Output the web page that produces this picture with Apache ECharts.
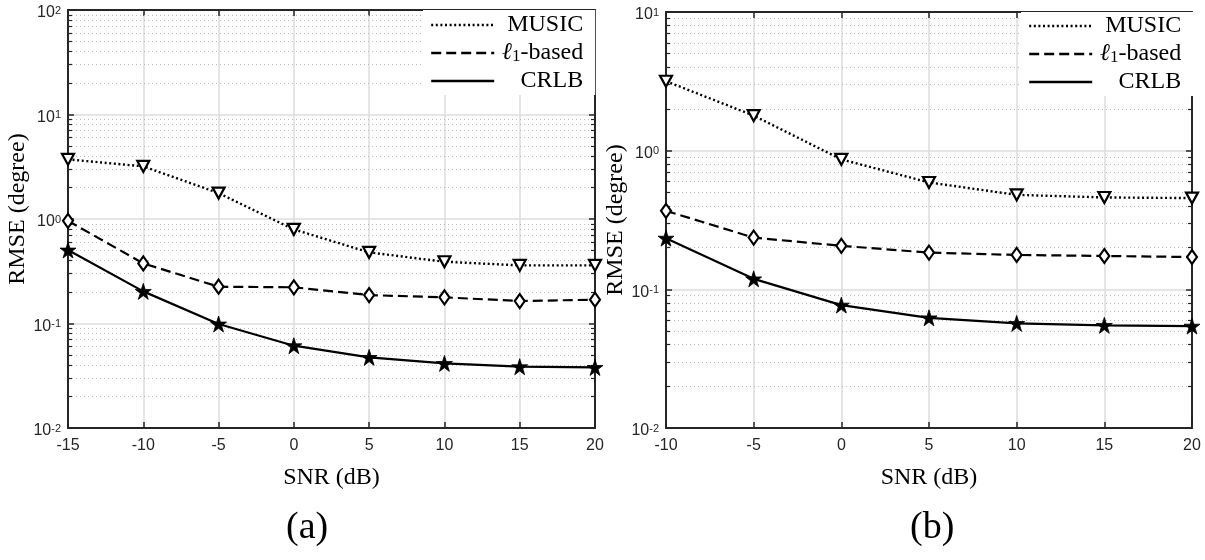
<!DOCTYPE html>
<html><head><meta charset="utf-8">
<script src="https://cdn.jsdelivr.net/npm/echarts@6/dist/echarts.min.js"></script>
<style>html,body{margin:0;padding:0;background:#fff}#c{width:1205px;height:560px}</style>
</head><body><div id="c"></div><script>
// ---- data ----
const seriesNames = ['MUSIC', 'ℓ1-based', 'CRLB'];
const snrA = [-15, -10, -5, 0, 5, 10, 15, 20];
const musicA = [3.72, 3.19, 1.77, 0.795, 0.479, 0.39, 0.36, 0.36];
const l1A = [0.96, 0.376, 0.225, 0.222, 0.187, 0.178, 0.164, 0.169];
const crlbA = [0.505, 0.203, 0.0989, 0.0613, 0.0474, 0.0415, 0.0386, 0.038];
const snrB = [-10, -5, 0, 5, 10, 15, 20];
const musicB = [3.17, 1.79, 0.865, 0.59, 0.48, 0.46, 0.455];
const l1B = [0.368, 0.236, 0.206, 0.184, 0.177, 0.174, 0.171];
const crlbB = [0.234, 0.119, 0.077, 0.0623, 0.0568, 0.055, 0.0543];
const panelLabels = ['(a)', '(b)'];
const xName = 'SNR (dB)';
const yName = 'RMSE (degree)';

// ---- styling ----
const AX = '#262626';
const SERIF = '"Liberation Serif", "Times New Roman", serif';
const SANS = '"Liberation Sans", Arial, sans-serif';
const GRIDC = '#dcdcdc';
const STAR = 'path://M50,0 L61.2,34.5 L97.6,34.5 L68.2,55.9 L79.4,90.5 L50,69.1 L20.6,90.5 L31.8,55.9 L2.4,34.5 L38.8,34.5 Z';

const panels = [
  { grid: {left: 68, top: 10, width: 527, height: 418}, xMin: -15, xMax: 20, yMin: 0.01, yMax: 100,
    x: snrA, ys: [musicA, l1A, crlbA], legend: {left: 423, top: 10, padTop: 3}, labelX: 306, yGap: 35, yPad: [0,0,0,20] },
  { grid: {left: 666, top: 12, width: 526, height: 416}, xMin: -10, xMax: 20, yMin: 0.01, yMax: 10,
    x: snrB, ys: [musicB, l1B, crlbB], legend: {left: 1021, top: 12, padTop: 2}, labelX: 930, yGap: 37, yPad: [0,0,0,0] }
];

function minorVals(lo, hi) {
  const out = [];
  const e0 = Math.round(Math.log10(lo)), e1 = Math.round(Math.log10(hi));
  for (let e = e0; e < e1; e++) for (let m = 2; m <= 9; m++) out.push(+(m * Math.pow(10, e)).toPrecision(6));
  return out;
}

const grids = [], xAxes = [], yAxes = [], series = [], legends = [], graphics = [];

const tickLabelRich = {
  b: {fontSize: 16, fontFamily: SANS, color: AX, lineHeight: 16, verticalAlign: 'bottom'},
  e: {fontSize: 11, fontFamily: SANS, color: AX, lineHeight: 11, verticalAlign: 'top'}
};

panels.forEach((p, k) => {
  grids.push(Object.assign({show: false}, p.grid));
  const xi = xAxes.length, yi = yAxes.length;
  xAxes.push({
    type: 'value', gridIndex: k, min: p.xMin, max: p.xMax, interval: 5, position: 'bottom',
    name: xName, nameLocation: 'middle', nameGap: 38,
    nameTextStyle: {fontFamily: SERIF, fontSize: 24, color: '#000'},
    axisLine: {show: true, onZero: false, lineStyle: {color: AX, width: 2}},
    axisTick: {show: true, inside: true, length: 6, lineStyle: {color: AX, width: 1.5}},
    axisLabel: {show: true, margin: 10, fontFamily: SANS, fontSize: 16, color: AX},
    splitLine: {show: true, lineStyle: {color: GRIDC, width: 1.5}}
  });
  xAxes.push({
    type: 'value', gridIndex: k, min: p.xMin, max: p.xMax, interval: 5, position: 'top',
    axisLine: {show: true, onZero: false, lineStyle: {color: AX, width: 2}},
    axisTick: {show: true, inside: true, length: 6, lineStyle: {color: AX, width: 1.5}},
    axisLabel: {show: false}, splitLine: {show: false}
  });
  yAxes.push({
    type: 'log', logBase: 10, gridIndex: k, min: p.yMin, max: p.yMax, position: 'left',
    name: yName, nameLocation: 'middle', nameGap: p.yGap, nameRotate: 90,
    nameTextStyle: {fontFamily: SERIF, fontSize: 24, color: '#000', padding: p.yPad},
    axisLine: {show: true, onZero: false, lineStyle: {color: AX, width: 2}},
    axisTick: {show: true, inside: true, length: 6, lineStyle: {color: AX, width: 1.5}},
    axisLabel: {show: true, margin: 7, padding: [6, 0, 0, 0], rich: tickLabelRich,
      formatter: v => '{b|10}{e|' + Math.round(Math.log10(v)) + '}'},
    splitLine: {show: true, lineStyle: {color: GRIDC, width: 1.5}}
  });
  yAxes.push({
    type: 'log', logBase: 10, gridIndex: k, min: p.yMin, max: p.yMax, position: 'right',
    axisLine: {show: true, onZero: false, lineStyle: {color: AX, width: 2}},
    axisTick: {show: true, inside: true, length: 6, lineStyle: {color: AX, width: 1.5}},
    axisLabel: {show: false}, splitLine: {show: false}
  });

  // minor grid lines and minor ticks (log positions 2..9 per decade)
  const mv = minorVals(p.yMin, p.yMax);
  const d = (p.xMax - p.xMin) * 4 / p.grid.width;
  const mlData = [];
  mv.forEach(v => {
    mlData.push({yAxis: v, lineStyle: {color: '#bdbdbd', width: 1, type: [1, 3]}});
    mlData.push([{coord: [p.xMin, v], lineStyle: {color: AX, width: 1.2, type: 'solid'}}, {coord: [p.xMin + d, v]}]);
    mlData.push([{coord: [p.xMax - d, v], lineStyle: {color: AX, width: 1.2, type: 'solid'}}, {coord: [p.xMax, v]}]);
  });

  const common = {type: 'line', xAxisIndex: xi, yAxisIndex: yi, showAllSymbol: true, clip: false,
    emphasis: {disabled: true}, silent: true};
  series.push(Object.assign({}, common, {
    name: seriesNames[0], data: p.x.map((s, i) => [s, p.ys[0][i]]), z: 3,
    symbol: 'triangle', symbolRotate: 180, symbolSize: [12, 11],
    itemStyle: {color: '#fff', borderColor: '#000', borderWidth: 2.2},
    lineStyle: {color: '#000', width: 2.4, type: [2, 2.6]}
  }));
  series.push(Object.assign({}, common, {
    name: seriesNames[1], data: p.x.map((s, i) => [s, p.ys[1][i]]), z: 3,
    symbol: 'diamond', symbolSize: [10, 14],
    itemStyle: {color: '#fff', borderColor: '#000', borderWidth: 2.2},
    lineStyle: {color: '#000', width: 2.2, type: [10, 5]}
  }));
  series.push(Object.assign({}, common, {
    name: seriesNames[2], data: p.x.map((s, i) => [s, p.ys[2][i]]), z: 3,
    symbol: STAR, symbolSize: 16,
    itemStyle: {color: '#000', borderColor: '#000', borderWidth: 0.8},
    lineStyle: {color: '#000', width: 2.2, type: 'solid'},
    markLine: {silent: true, z: 1, symbol: ['none', 'none'], label: {show: false}, animation: false,
      emphasis: {disabled: true}, data: mlData}
  }));

  legends.push({
    left: p.legend.left, top: p.legend.top, orient: 'vertical', align: 'left',
    itemWidth: 63, itemHeight: 24, itemGap: 4,
    padding: [p.legend.padTop, 12, 2, 7], backgroundColor: '#fff', selectedMode: false,
    data: seriesNames, itemStyle: {opacity: 0},
    lineStyle: {width: 2.4},
    textStyle: {width: 84, rich: {
      m: {fontFamily: SERIF, fontSize: 24, color: '#000', lineHeight: 24, align: 'right', verticalAlign: 'middle'},
      i: {fontFamily: SERIF, fontSize: 24, fontStyle: 'italic', color: '#000', lineHeight: 24, align: 'right', verticalAlign: 'middle'},
      s: {fontFamily: SERIF, fontSize: 17, color: '#000', lineHeight: 12, align: 'right', verticalAlign: 'bottom'}
    }},
    formatter: name => name === seriesNames[1] ? '{i|ℓ}{s|1}{m|-based}' : '{m|' + name + '}'
  });

  graphics.push({type: 'text', left: p.labelX - 20, top: 509, style: {text: panelLabels[k], font: '38px ' + SERIF, fill: '#000', textAlign: 'center'}});
});

const chart = echarts.init(document.getElementById('c'));
chart.setOption({
  animation: false,
  backgroundColor: '#fff',
  grid: grids, xAxis: xAxes, yAxis: yAxes, series: series, legend: legends, graphic: graphics
});
</script></body></html>
